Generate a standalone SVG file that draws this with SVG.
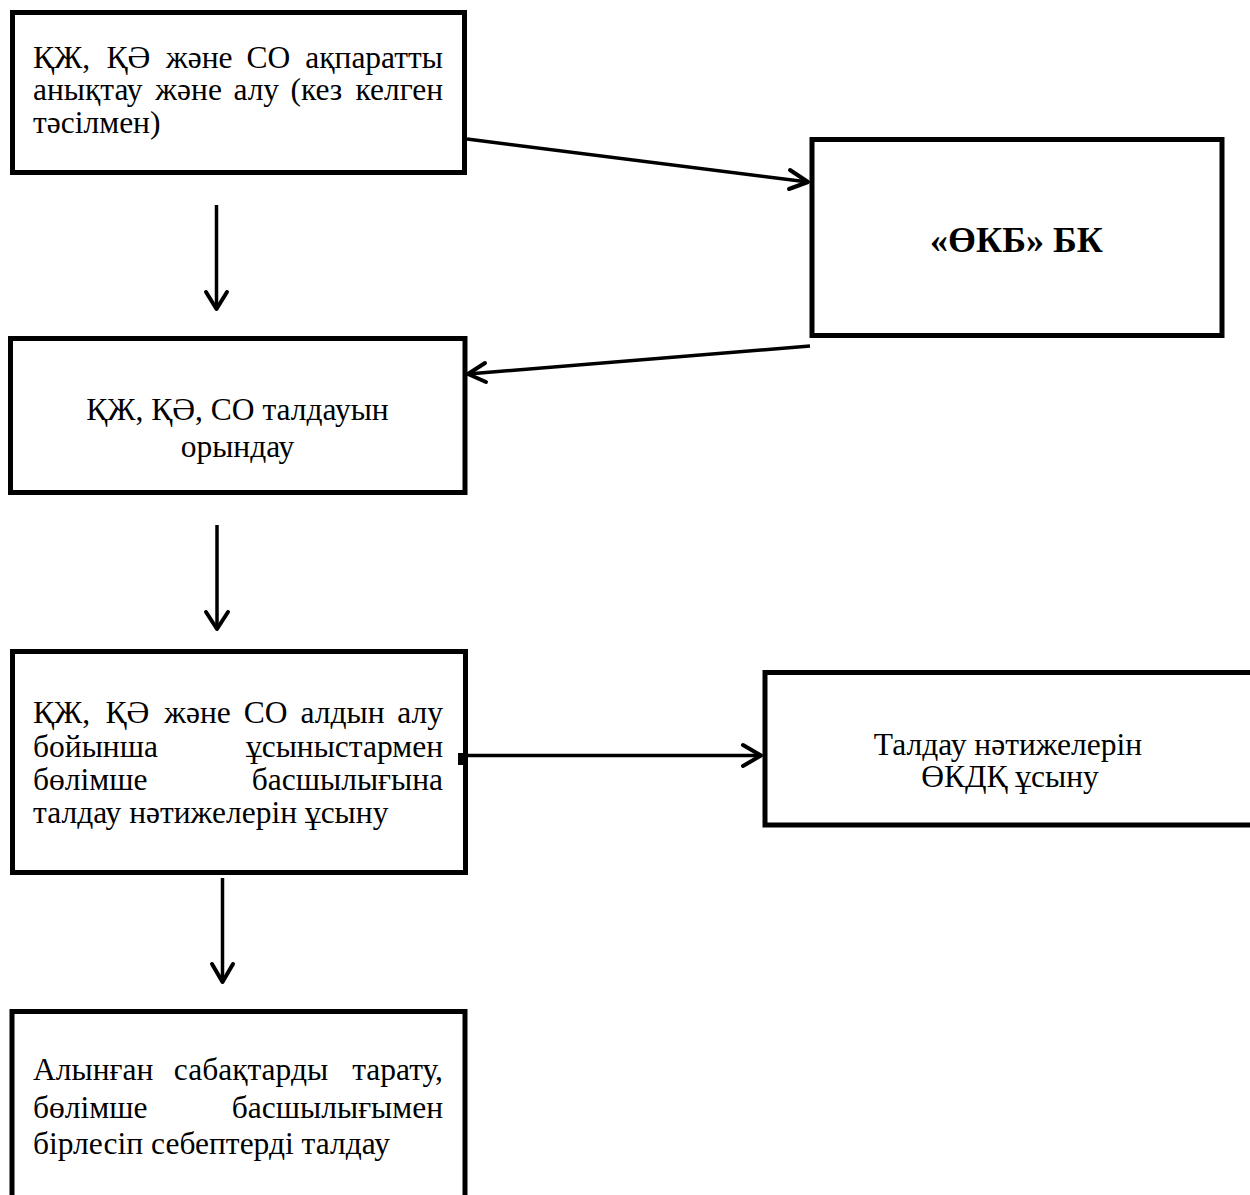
<svg xmlns="http://www.w3.org/2000/svg" width="1250" height="1195" viewBox="0 0 1250 1195">
<style>
.box{fill:#fff;stroke:#000;stroke-width:5}
.t{font-family:"Liberation Serif","Times New Roman","DejaVu Serif",serif;font-size:31.5px;fill:#000}
.b{font-family:"Liberation Serif","Times New Roman","DejaVu Serif",serif;font-size:36px;font-weight:bold;fill:#000}
.ln{stroke:#000;stroke-width:3.5;fill:none}
.ah{stroke:#000;stroke-width:4;fill:none;stroke-linecap:round;stroke-linejoin:round}
</style>
<rect width="1250" height="1195" fill="#fff"/>
<g id="n1">
<rect class="box" x="12.5" y="12.5" width="452" height="160"/>
<text class="t" y="68"><tspan x="33">ҚЖ,</tspan><tspan x="106.5">ҚӘ</tspan><tspan x="166">және</tspan><tspan x="246.5">СО</tspan><tspan x="443" text-anchor="end">ақпаратты</tspan></text>
<text class="t" y="100"><tspan x="33">анықтау</tspan><tspan x="155.3">және</tspan><tspan x="233.4">алу</tspan><tspan x="290.4">(кез</tspan><tspan x="443" text-anchor="end">келген</tspan></text>
<text class="t" x="33" y="133">тәсілмен)</text>
</g>
<g id="n2">
<rect class="box" x="812" y="139.5" width="410" height="196"/>
<text class="b" x="1016.5" y="252" text-anchor="middle">«ӨКБ» БК</text>
</g>
<g id="n3">
<rect class="box" x="10.5" y="338.5" width="454.5" height="154"/>
<text class="t" x="237.5" y="420" text-anchor="middle">ҚЖ, ҚӘ, СО талдауын</text>
<text class="t" x="237.5" y="457" text-anchor="middle">орындау</text>
</g>
<g id="n4">
<rect class="box" x="12.5" y="651.5" width="453" height="221"/>
<text class="t" y="723"><tspan x="33">ҚЖ,</tspan><tspan x="105.5">ҚӘ</tspan><tspan x="164.2">және</tspan><tspan x="243.8">СО</tspan><tspan x="300.6">алдын</tspan><tspan x="443" text-anchor="end">алу</tspan></text>
<text class="t" y="757"><tspan x="33">бойынша</tspan><tspan x="443" text-anchor="end">ұсыныстармен</tspan></text>
<text class="t" y="790"><tspan x="33">бөлімше</tspan><tspan x="443" text-anchor="end">басшылығына</tspan></text>
<text class="t" x="33" y="823">талдау нәтижелерін ұсыну</text>
</g>
<g id="n5">
<rect class="box" x="765" y="672.5" width="500" height="152.5"/>
<text class="t" x="1008" y="755" text-anchor="middle">Талдау нәтижелерін</text>
<text class="t" x="1010" y="787" text-anchor="middle">ӨКДҚ ұсыну</text>
</g>
<g id="n6">
<rect class="box" x="12" y="1011.5" width="453" height="200"/>
<text class="t" y="1080"><tspan x="33">Алынған</tspan><tspan x="173.8">сабақтарды</tspan><tspan x="443" text-anchor="end">тарату,</tspan></text>
<text class="t" y="1118"><tspan x="33">бөлімше</tspan><tspan x="443" text-anchor="end">басшылығымен</tspan></text>
<text class="t" x="33" y="1154">бірлесіп себептерді талдау</text>
</g>
<g id="connectors">
<line class="ln" x1="216.5" y1="205" x2="216.5" y2="309"/>
<polyline class="ah" points="206,292 216.5,309 227,292"/>
<line class="ln" x1="217" y1="525" x2="217" y2="629"/>
<polyline class="ah" points="206,612 217,629 228,612"/>
<line class="ln" x1="222.5" y1="878" x2="222.5" y2="982"/>
<polyline class="ah" points="212,964 222.5,982 233,964"/>
<line class="ln" x1="467" y1="139" x2="808" y2="182"/>
<polyline class="ah" points="790,170 808,182 789,189"/>
<line class="ln" x1="810" y1="346" x2="468" y2="374"/>
<polyline class="ah" points="485,363 468,374 486,382"/>
<rect x="458" y="753" width="6" height="12" fill="#000"/>
<line class="ln" x1="464" y1="755.5" x2="761" y2="755.5"/>
<polyline class="ah" points="743,745 761,755.5 743,766"/>
</g>
</svg>
